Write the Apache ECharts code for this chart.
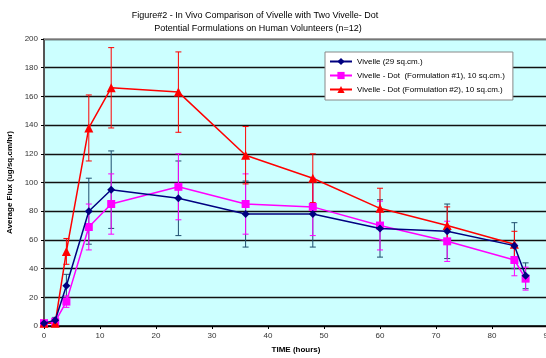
<!DOCTYPE html>
<html><head><meta charset="utf-8">
<script src="https://cdn.jsdelivr.net/npm/echarts@6/dist/echarts.min.js"></script>
<style>html,body{margin:0;padding:0;background:#fff}#c{width:546px;height:358px}</style>
</head><body><div id="c"></div>
<script>
const titleLines = ["Figure#2 - In Vivo Comparison of Vivelle with Two Vivelle- Dot", "Potential Formulations on Human Volunteers (n=12)"];
const seriesNames = ["Vivelle (29 sq.cm.)", "Vivelle - Dot  (Formulation #1), 10 sq.cm.)", "Vivelle - Dot (Formulation #2), 10 sq.cm.)"];
const hoursA = [0, 2, 4, 8, 12, 24, 36, 48, 60, 72, 84, 86];
const vivelle = [2, 4, 28, 80, 95, 89, 78, 78, 68, 66, 56, 35];
const vivelleErr = [1, 2, 8, 23, 27, 26, 23, 23, 20, 19, 16, 9];
const dot1 = [2, 3, 17, 69, 85, 97, 85, 83, 70, 59, 46, 33];
const dot1Err = [1, 1, 4, 16, 21, 23, 21, 20, 17, 14, 11, 8];
const hoursB = [0, 2, 4, 8, 12, 24, 36, 48, 60, 72, 84];
const dot2 = [2, 2, 52, 138, 166, 163, 119, 103, 82, 70, 57];
const dot2Err = [1, 1, 9, 23, 28, 28, 20, 17, 14, 13, 9];

const colors = ['#000080', '#ff00ff', '#ff0000'];
const errColors = ['#1f4e6e', '#ff00ff', '#ff0000'];

function pts(xs, ys) { return xs.map((x, i) => [x, ys[i]]); }
function errs(xs, ys, es) { return xs.map((x, i) => [x, ys[i] - es[i], ys[i] + es[i]]); }
function errSeries(data, color) {
  return {
    type: 'custom', silent: true, z: 3,
    data: data,
    renderItem: function (params, api) {
      const x = api.value(0), lo = api.value(1), hi = api.value(2);
      const a = api.coord([x, lo]), b = api.coord([x, hi]);
      const w = 3;
      const st = { stroke: color, lineWidth: 1 };
      return { type: 'group', children: [
        { type: 'line', shape: { x1: a[0], y1: a[1], x2: b[0], y2: b[1] }, style: st },
        { type: 'line', shape: { x1: a[0] - w, y1: a[1], x2: a[0] + w, y2: a[1] }, style: st },
        { type: 'line', shape: { x1: b[0] - w, y1: b[1], x2: b[0] + w, y2: b[1] }, style: st }
      ]};
    }
  };
}

const chart = echarts.init(document.getElementById('c'));
chart.setOption({
  animation: false,
  textStyle: { fontFamily: 'Liberation Sans, Arial, sans-serif' },
  title: [
    { text: titleLines[0], left: 250, top: 6, textAlign: 'center', textStyle: { fontSize: 9, fontWeight: 'normal', color: '#000' } },
    { text: titleLines[1], left: 253, top: 19, textAlign: 'center', textStyle: { fontSize: 9, fontWeight: 'normal', color: '#000' } }
  ],
  grid: { left: 44, top: 39, width: 504, height: 287, show: true, backgroundColor: '#ccffff', borderWidth: 0, containLabel: false, outerBoundsMode: 'none' },
  xAxis: {
    type: 'value', min: 0, max: 90, interval: 10,
    name: 'TIME (hours)', nameLocation: 'middle', nameGap: 20,
    nameTextStyle: { fontSize: 8, fontWeight: 'bold', color: '#000' },
    axisLine: { lineStyle: { color: '#000', width: 1.5 } },
    axisTick: { show: true, length: 3, lineStyle: { color: '#000' } },
    axisLabel: { fontSize: 8, color: '#333', margin: 6 },
    splitLine: { show: false }
  },
  yAxis: {
    type: 'value', min: 0, max: 200, interval: 20,
    name: 'Average Flux (ug/sq.cm/hr)', nameLocation: 'middle', nameGap: 26, nameRotate: 90,
    nameTextStyle: { fontSize: 8, fontWeight: 'bold', color: '#000' },
    axisLine: { show: true, lineStyle: { color: '#555', width: 2 } },
    axisTick: { show: true, length: 3, lineStyle: { color: '#000' } },
    axisLabel: { fontSize: 8, color: '#333', margin: 6 },
    splitLine: { show: true, lineStyle: { color: '#111', width: 1.3 } }
  },
  legend: {
    orient: 'vertical', left: 325, top: 52, width: 191,
    padding: [5, 8, 6, 4], itemGap: 5, itemWidth: 22, itemHeight: 9,
    backgroundColor: '#fff', borderColor: '#888', borderWidth: 1,
    textStyle: { fontSize: 8, color: '#000', lineHeight: 9 },
    data: seriesNames
  },
  graphic: [
    { type: 'line', shape: { x1: 44, y1: 39, x2: 548, y2: 39 }, style: { stroke: '#999', lineWidth: 1.5 }, z: 100 }
  ],
  series: [
    errSeries(errs(hoursA, vivelle, vivelleErr), errColors[0]),
    errSeries(errs(hoursA, dot1, dot1Err), errColors[1]),
    errSeries(errs(hoursB, dot2, dot2Err), errColors[2]),
    { name: seriesNames[0], type: 'line', data: pts(hoursA, vivelle), color: colors[0], symbol: 'diamond', symbolSize: 8, lineStyle: { width: 1.5 }, z: 5 },
    { name: seriesNames[1], type: 'line', data: pts(hoursA, dot1), color: colors[1], symbol: 'rect', symbolSize: 8, lineStyle: { width: 1.5 }, z: 4 },
    { name: seriesNames[2], type: 'line', data: pts(hoursB, dot2), color: colors[2], symbol: 'triangle', symbolSize: 9, lineStyle: { width: 1.5 }, z: 4 }
  ]
});
</script></body></html>
